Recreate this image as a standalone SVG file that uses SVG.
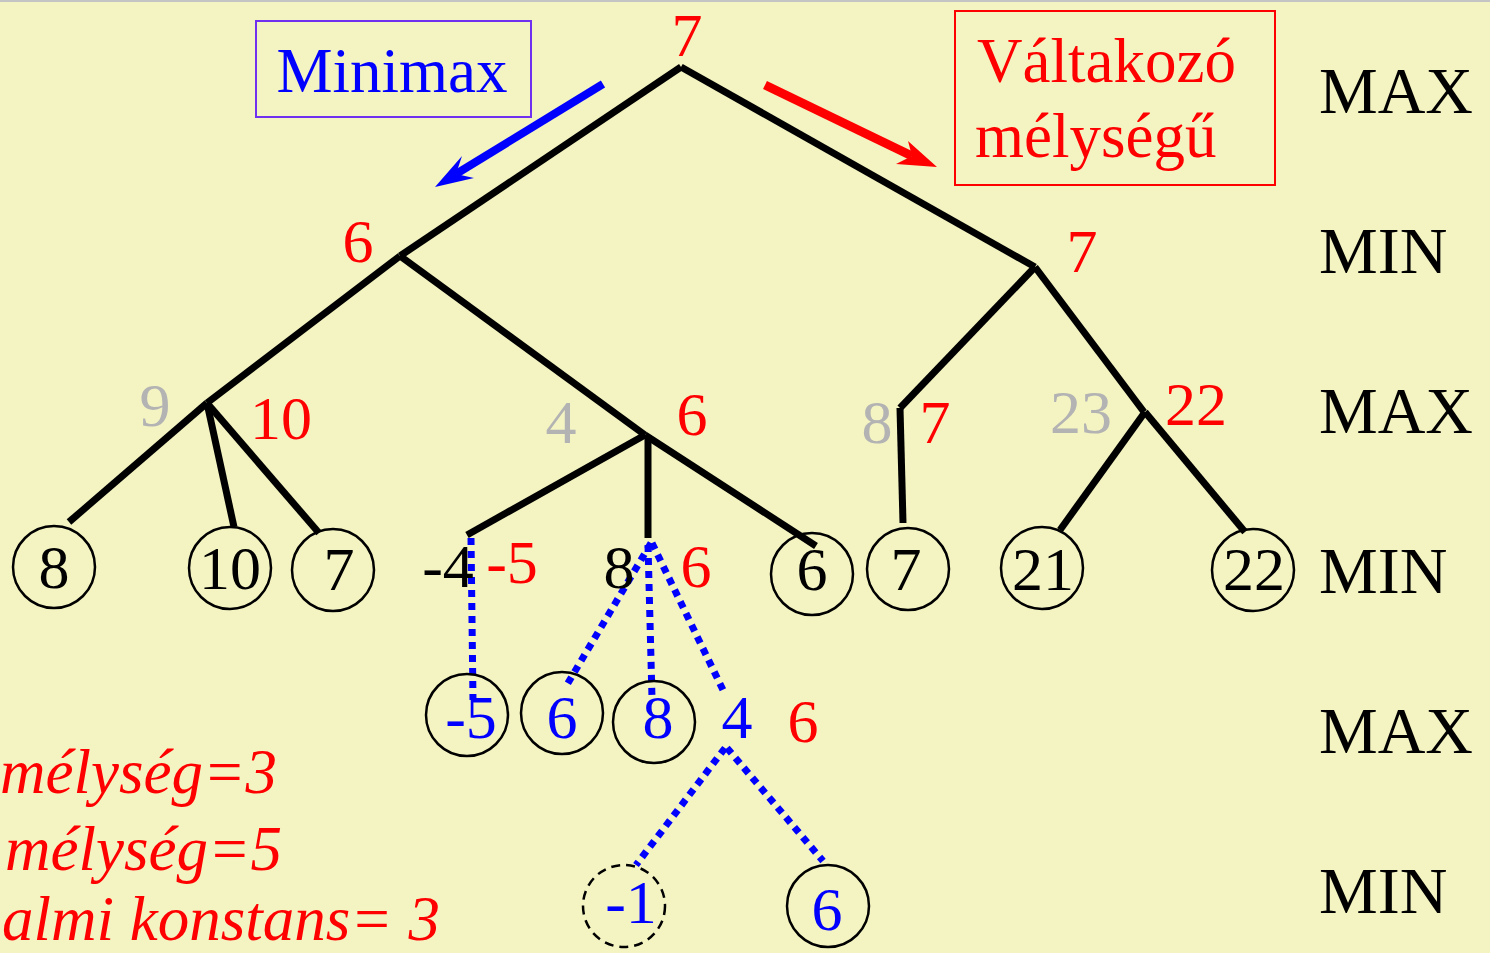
<svg xmlns="http://www.w3.org/2000/svg" width="1490" height="953" viewBox="0 0 1490 953">
<defs>
<style>
text{font-family:"Liberation Serif","Times New Roman",serif;}
.t{font-size:62px;text-anchor:middle;}
.red{fill:#ff0000;}
.gray{fill:#b3b3b3;}
.blk{fill:#000000;}
.blu{fill:#0000ff;}
.edge{stroke:#000;stroke-width:7;fill:none;stroke-linecap:butt;}
.dot{stroke:#0000ff;stroke-width:7;fill:none;stroke-dasharray:7 6;}
.leaf{fill:none;stroke:#000;stroke-width:2.5;}
.lvl{font-size:66px;fill:#000;}
.note{font-size:63px;font-style:italic;fill:#ff0000;}
</style>
</defs>
<rect x="0" y="0" width="1490" height="953" fill="#f4f4c3"/>
<line x1="0" y1="1" x2="1490" y2="1" stroke="#c4c4c4" stroke-width="2"/>

<g id="connectors">
<line class="edge" x1="681" y1="67" x2="400" y2="256"/>
<line class="edge" x1="681" y1="67" x2="1035" y2="267"/>
<line class="edge" x1="400" y1="256" x2="207" y2="403"/>
<line class="edge" x1="400" y1="256" x2="645" y2="435"/>
<line class="edge" x1="207" y1="403" x2="69" y2="522"/>
<line class="edge" x1="207" y1="403" x2="234" y2="527"/>
<line class="edge" x1="207" y1="403" x2="319" y2="533"/>
<line class="edge" x1="645" y1="435" x2="467" y2="535"/>
<line class="edge" x1="648" y1="435" x2="648" y2="538"/>
<line class="edge" x1="645" y1="435" x2="816" y2="546"/>
<line class="edge" x1="1035" y1="267" x2="900" y2="408"/>
<line class="edge" x1="1035" y1="267" x2="1144" y2="412"/>
<line class="edge" x1="900" y1="408" x2="903" y2="523"/>
<line class="edge" x1="1145" y1="412" x2="1060" y2="530"/>
<line class="edge" x1="1145" y1="412" x2="1245" y2="532"/>
<line class="dot" x1="471" y1="538" x2="473" y2="700"/>
<line class="dot" x1="651" y1="543" x2="565" y2="688"/>
<line class="dot" x1="648" y1="545" x2="652" y2="698"/>
<line class="dot" x1="652" y1="543" x2="723" y2="690"/>
<line class="dot" x1="725" y1="748" x2="636" y2="865"/>
<line class="dot" x1="727" y1="748" x2="823" y2="861"/>
<line x1="603" y1="84" x2="456" y2="174" stroke="#0000ff" stroke-width="8"/>
<polygon points="435,187 462,156 456,174 474,178" fill="#0000ff"/>
<line x1="765" y1="85" x2="912" y2="156" stroke="#ff0000" stroke-width="9"/>
<polygon points="937,167 908,141 912,156 896,164" fill="#ff0000"/>
</g>

<g id="box-minimax">
<rect x="256" y="21" width="275" height="96" fill="none" stroke="#7030f0" stroke-width="2"/>
<text x="392" y="92" font-size="63" text-anchor="middle" class="blu">Minimax</text>
</g>
<g id="box-valtakozo">
<rect x="955" y="11" width="320" height="174" fill="none" stroke="#ff0000" stroke-width="2"/>
<text x="977" y="82" font-size="63" class="red">Váltakozó</text>
<text x="975" y="157" font-size="63" class="red">mélységű</text>
</g>

<g id="root"><text class="t red" x="687" y="56">7</text></g>
<g id="min-left"><text class="t red" x="358" y="262">6</text></g>
<g id="min-right"><text class="t red" x="1082" y="272">7</text></g>
<g id="max-a"><text class="t gray" x="155" y="426">9</text><text class="t red" x="281" y="439">10</text></g>
<g id="max-b"><text class="t gray" x="561" y="443">4</text><text class="t red" x="692" y="435">6</text></g>
<g id="max-c"><text class="t gray" x="877" y="443">8</text><text class="t red" x="935" y="443">7</text></g>
<g id="max-d"><text class="t gray" x="1081" y="433">23</text><text class="t red" x="1196" y="425">22</text></g>

<g id="leaf-8"><circle class="leaf" cx="54" cy="567" r="41"/><text class="t blk" x="54" y="588">8</text></g>
<g id="leaf-10"><circle class="leaf" cx="230" cy="568" r="41"/><text class="t blk" x="230" y="589">10</text></g>
<g id="leaf-7a"><circle class="leaf" cx="333" cy="570" r="41"/><text class="t blk" x="339" y="590">7</text></g>
<g id="node-m4"><text class="t blk" x="448" y="587">-4</text><text class="t red" x="512" y="583">-5</text></g>
<g id="node-8"><text class="t blk" x="619" y="588">8</text><text class="t red" x="696" y="587">6</text></g>
<g id="leaf-6a"><circle class="leaf" cx="812" cy="574" r="41"/><text class="t blk" x="812" y="590">6</text></g>
<g id="leaf-7b"><circle class="leaf" cx="908" cy="569" r="41"/><text class="t blk" x="906" y="590">7</text></g>
<g id="leaf-21"><circle class="leaf" cx="1042" cy="568" r="41"/><text class="t blk" x="1043" y="590">21</text></g>
<g id="leaf-22"><circle class="leaf" cx="1253" cy="570" r="41"/><text class="t blk" x="1254" y="590">22</text></g>

<g id="leaf-m5"><circle class="leaf" cx="467" cy="715" r="41"/><text class="t blu" x="471" y="738">-5</text></g>
<g id="leaf-6b"><circle class="leaf" cx="562" cy="713" r="41"/><text class="t blu" x="562" y="738">6</text></g>
<g id="leaf-8b"><circle class="leaf" cx="654" cy="722" r="41"/><text class="t blu" x="658" y="738">8</text></g>
<g id="node-4"><text class="t blu" x="737" y="738">4</text><text class="t red" x="803" y="742">6</text></g>

<g id="leaf-m1"><circle class="leaf" cx="624" cy="906" r="41" stroke-dasharray="9 6"/><text class="t blu" x="631" y="923">-1</text></g>
<g id="leaf-6c"><circle class="leaf" cx="828" cy="906" r="41"/><text class="t blu" x="827" y="930">6</text></g>

<g id="levels">
<text class="lvl" x="1319" y="113">MAX</text>
<text class="lvl" x="1319" y="273">MIN</text>
<text class="lvl" x="1319" y="433">MAX</text>
<text class="lvl" x="1319" y="593">MIN</text>
<text class="lvl" x="1319" y="753">MAX</text>
<text class="lvl" x="1319" y="913">MIN</text>
</g>

<g id="notes">
<text class="note" x="0" y="793">mélység=3</text>
<text class="note" x="5" y="870">mélység=5</text>
<text class="note" x="2" y="940">almi konstans= 3</text>
</g>
</svg>
